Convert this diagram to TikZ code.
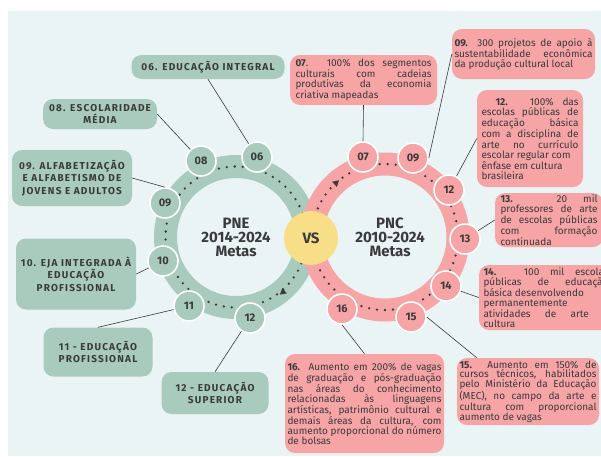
\documentclass[tikz,border=0pt]{standalone}
\usepackage{fontspec}
\setmainfont{Fira Sans}
\newfontfamily\capsfont[LetterSpace=12]{Fira Sans}
\usepackage{tikz}
\usetikzlibrary{shapes}
\definecolor{pne-green}{RGB}{168,203,189}
\definecolor{pnc-pink}{RGB}{246,164,166}
\definecolor{vs-yellow}{RGB}{248,222,134}
\definecolor{paper-blue}{RGB}{234,244,245}
\definecolor{ink}{RGB}{58,58,58}
\tikzstyle{ring}=[line width=23pt]
\tikzstyle{dotted-ring}=[ink, line width=2.6pt, line cap=round, dash pattern=on 0pt off 8pt]
\tikzstyle{flowhead}=[isosceles triangle, isosceles triangle apex angle=60, fill=ink, inner sep=0pt, minimum size=6pt]
\tikzstyle{goalnum}=[circle, draw=white, line width=1.6pt, minimum size=30pt, inner sep=0pt, text=ink, font=\bfseries\fontsize{11}{11}\selectfont]
\tikzstyle{goal}=[rounded corners=10pt, fill=pne-green, text=ink, align=center, inner sep=0pt, font=\capsfont\bfseries\fontsize{10}{12.5}\selectfont]
\tikzstyle{meta}=[rounded corners=10pt, fill=pnc-pink, text=ink, align=justify, inner sep=0pt, font=\fontsize{10}{9.7}\selectfont, execute at begin node={\setlength{\parindent}{0pt}\hyphenpenalty=10000}]
\tikzstyle{title}=[text=ink, align=center, font=\bfseries\fontsize{15}{14}\selectfont]
\tikzstyle{link}=[draw=ink, line width=0.6pt]

\begin{document}
\begin{tikzpicture}[x=1pt, y=-1pt]
	\useasboundingbox (0,0) rectangle (601,456);
	\clip (0,0) rectangle (601,456);
	\fill[white] (0,0) rectangle (601,456);
	\fill[paper-blue] (8,11) rectangle (601,456);
	\coordinate (pne) at (236,237);
	\coordinate (pnc) at (385,237);
	\draw[ring, pne-green] (pne) circle[radius=70.5pt];
	\draw[ring, pnc-pink] (pnc) circle[radius=73pt];
	\draw[dotted-ring] (pne) circle[radius=70.5pt];
	\draw[dotted-ring] (pnc) circle[radius=73pt];
	\node[flowhead, rotate=220] (pnehead) at (283,292) {};
	\node[flowhead, rotate=42] (pnchead) at (336,183) {};
	\node[title] (pnetitle) at (pne) {PNE\\2014-2024\\Metas};
	\node[title] (pnctitle) at (390,237) {PNC\\2010-2024\\Metas};
	\node[circle, fill=vs-yellow, minimum size=54pt, text=ink, font=\bfseries\fontsize{15}{15}\selectfont] (vs) at (311,238) {VS};

	\node[goalnum, fill=pne-green] (e06) at (257,157) {06};
	\node[goalnum, fill=pne-green] (e08) at (201,161) {08};
	\node[goalnum, fill=pne-green] (e09) at (165,203) {09};
	\node[goalnum, fill=pne-green] (e10) at (163,261) {10};
	\node[goalnum, fill=pne-green] (e11) at (189,306) {11};
	\node[goalnum, fill=pne-green] (e12) at (250,318) {12};

	\node[goalnum, fill=pnc-pink] (c07) at (363,157) {07};
	\node[goalnum, fill=pnc-pink] (c09) at (413,158) {09};
	\node[goalnum, fill=pnc-pink] (c12) at (449,190) {12};
	\node[goalnum, fill=pnc-pink] (c13) at (465,239) {13};
	\node[goalnum, fill=pnc-pink] (c14) at (446,286) {14};
	\node[goalnum, fill=pnc-pink] (c15) at (411,317) {15};
	\node[goalnum, fill=pnc-pink] (c16) at (342,309) {16};

	\node[goal, minimum width=153pt, minimum height=24pt] (g06) at (208,67) {06. EDUCAÇÃO INTEGRAL};
	\node[goal, minimum width=114pt, minimum height=30pt] (g08) at (100,114) {08. ESCOLARIDADE\\MÉDIA};
	\node[goal, minimum width=120pt, minimum height=56pt] (g09) at (72,178) {09. ALFABETIZAÇÃO\\E ALFABETISMO DE\\JOVENS E ADULTOS};
	\node[goal, minimum width=120pt, minimum height=71pt] (g10) at (76,274) {10. EJA INTEGRADA À\\EDUCAÇÃO\\PROFISSIONAL};
	\node[goal, minimum width=109pt, minimum height=49pt] (g11) at (98,352) {11 - EDUCAÇÃO\\PROFISSIONAL};
	\node[goal, minimum width=107pt, minimum height=42pt] (g12) at (215,393) {12 - EDUCAÇÃO\\SUPERIOR};

	\node[meta, minimum width=147pt, minimum height=50pt, text width=136pt] (p07) at (363.5,80) {\textbf{07}. 100\% dos segmentos\linebreak culturais com cadeias\linebreak produtivas da economia\linebreak criativa mapeadas};
	\node[meta, minimum width=143pt, minimum height=50pt, text width=138pt] (p09) at (523.5,54) {\textbf{09.} 300 projetos de apoio à\linebreak sustentabilidade econômica\linebreak da produção cultural local};
	\node[meta, minimum width=106pt, minimum height=97pt, text width=97pt] (p12) at (530,138.5) {\hspace*{14pt}\textbf{12.} 100\% das\linebreak escolas públicas de\linebreak educação básica\linebreak com a disciplina de\linebreak arte no currículo\linebreak escolar regular com\newline ênfase em cultura\newline brasileira};
	\node[meta, minimum width=108pt, minimum height=54pt, text width=97pt] (p13) at (549,220) {\textbf{13.} 20 mil\linebreak professores de arte\linebreak de escolas públicas\linebreak com formação\linebreak continuada};
	\node[meta, minimum width=134pt, minimum height=65pt, text width=125pt] (p14) at (546,297.5) {\textbf{14.} 100 mil escolas\linebreak públicas de educação\linebreak básica desenvolvendo\newline permanentemente\newline atividades de arte e\linebreak cultura};
	\node[meta, minimum width=142pt, minimum height=67pt, text width=137pt] (p15) at (528,391.5) {\textbf{15.} Aumento em 150\% de\linebreak cursos técnicos, habilitados\linebreak pelo Ministério da Educação\linebreak (MEC), no campo da arte e\linebreak cultura com proporcional\linebreak aumento de vagas};
	\node[meta, minimum width=159pt, minimum height=99pt, text width=154pt] (p16) at (364.5,403.5) {\textbf{16.} Aumento em 200\% de vagas\linebreak de graduação e pós-graduação\linebreak nas áreas do conhecimento\linebreak relacionadas às linguagens\linebreak artísticas, patrimônio cultural e\linebreak demais áreas da cultura, com\linebreak aumento proporcional do número\linebreak de bolsas};

	\draw[link] (e06) -- (g06.south);
	\draw[link] (e08) -- (g08.east);
	\draw[link] (e09.north) -- (g09.east);
	\draw[link] (e10) -- (g10.east);
	\draw[link] (e11) -- (g11.north);
	\draw[link] (e12) -- (g12.north);
	\draw[link] (c07.north) -- (p07.south);
	\draw[link] (c09.east) -- (p09.west);
	\draw[link] (c12) -- (p12.west);
	\draw[link] (c13) -- (p13.west);
	\draw[link] (c14) -- (p14.west);
	\draw[link] (c15.east) -- ([xshift=20pt]p15.north west);
	\draw[link] (c16.south) -- (p16.north);
\end{tikzpicture}
\end{document}
